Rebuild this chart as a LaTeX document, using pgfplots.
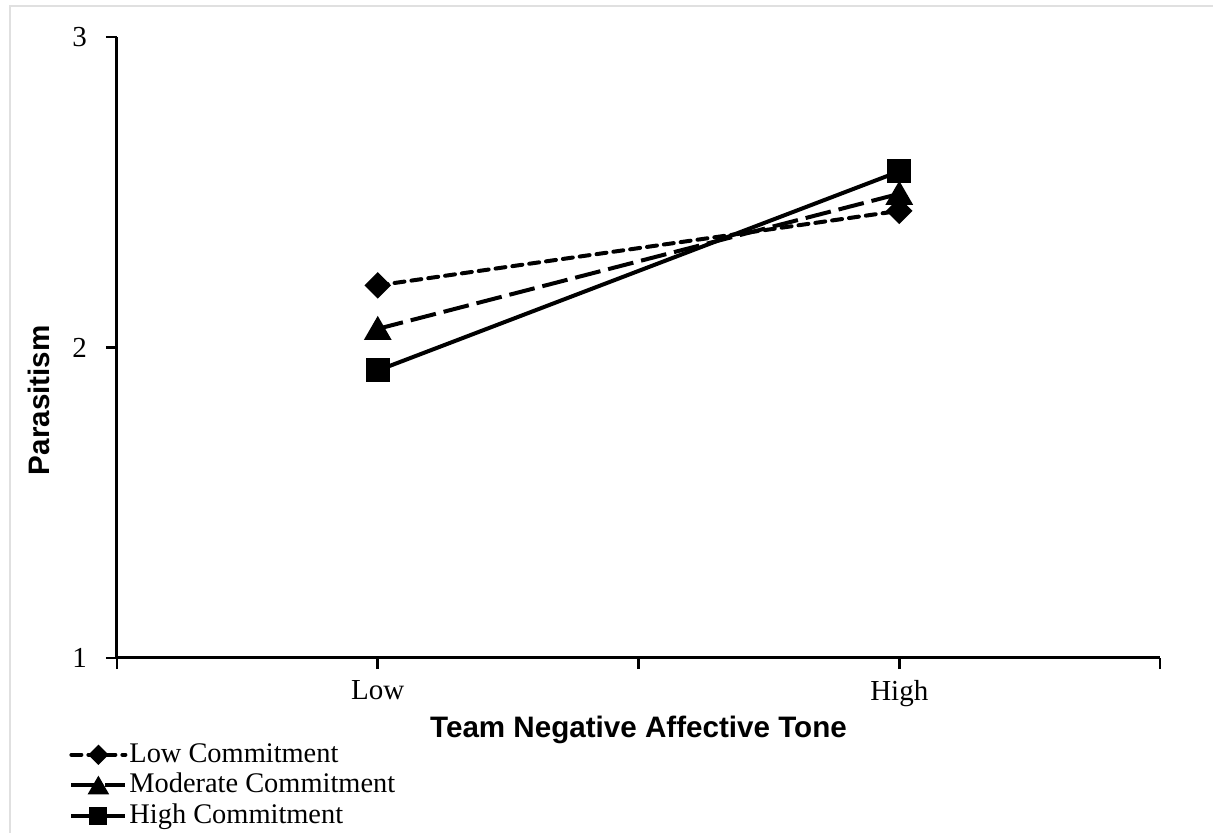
\documentclass[border=0pt]{standalone}
\usepackage{fontspec}
\setmainfont{Liberation Serif}
\newfontfamily\labelfont{Liberation Sans}
\usepackage{pgfplots}
\pgfplotsset{compat=1.18}
\begin{document}
\begin{tikzpicture}[x=1pt,y=1pt]
\useasboundingbox (-58.5,-87.5) rectangle (548,329);
\draw[line width=1pt, black!12] (-53.5,-90) -- (-53.5,326) -- (550,326);
\begin{axis}[
  at={(0,0)}, anchor=south west,
  width=521.5pt, height=310.5pt, scale only axis,
  xmin=0, xmax=2, ymin=1, ymax=3,
  clip=false,
  axis lines*=left,
  axis line style={line width=1.5pt},
  xtick={0,0.5,1,1.5,2}, xticklabels={,Low,,High,},
  ytick={1,2,3},
  tick align=outside, major tick length=5.5pt,
  tick style={line width=1.3pt, black},
  /pgf/number format/assume math mode=true,
  ticklabel style={font=\fontsize{14.5}{16}\selectfont},
  xticklabel style={yshift=-2pt},
  yticklabel style={xshift=-6pt},
  xlabel={\labelfont\bfseries Team Negative Affective Tone},
  ylabel={\labelfont\bfseries Parasitism},
  xlabel style={at={(axis description cs:0.5,0)}, anchor=center, yshift=-36pt, font=\fontsize{14.8}{16}\selectfont},
  ylabel style={at={(axis description cs:0,0.415)}, anchor=center, rotate=0, yshift=39pt, font=\fontsize{14.8}{16}\selectfont},
  legend style={at={(axis description cs:0,0)}, anchor=north west, xshift=-24pt, yshift=-41.5pt,
    draw=none, fill=none, inner sep=0pt, font=\fontsize{14.2}{16}\selectfont,
    row sep=1.5pt, nodes={inner sep=1pt, text depth=2pt},
    /tikz/every even column/.append style={column sep=2pt}},
  legend cell align=left,
  legend image code/.code={\draw[mark repeat=2,mark phase=2,#1, every mark/.append style={scale=0.7}] plot coordinates {(0pt,0pt)(13.5pt,0pt)(27pt,0pt)};},
]
\addplot[black, line width=2pt, dash pattern=on 5pt off 3.5pt, line cap=round,
  mark=square*, mark size=3.7pt, mark options={solid, rotate=45}]
  coordinates {(0.5,2.20) (1.5,2.44)};
\addlegendentry{Low Commitment}
\addplot[black, line width=2pt, dash pattern=on 13pt off 4pt,
  mark=triangle*, mark size=6pt, mark options={solid, yshift=-1.5pt}]
  coordinates {(0.5,2.06) (1.5,2.495)};
\addlegendentry{Moderate Commitment}
\addplot[black, line width=2pt,
  mark=square*, mark size=5pt, mark options={solid}]
  coordinates {(0.5,1.926) (1.5,2.567)};
\addlegendentry{High Commitment}
\end{axis}
\end{tikzpicture}
\end{document}
